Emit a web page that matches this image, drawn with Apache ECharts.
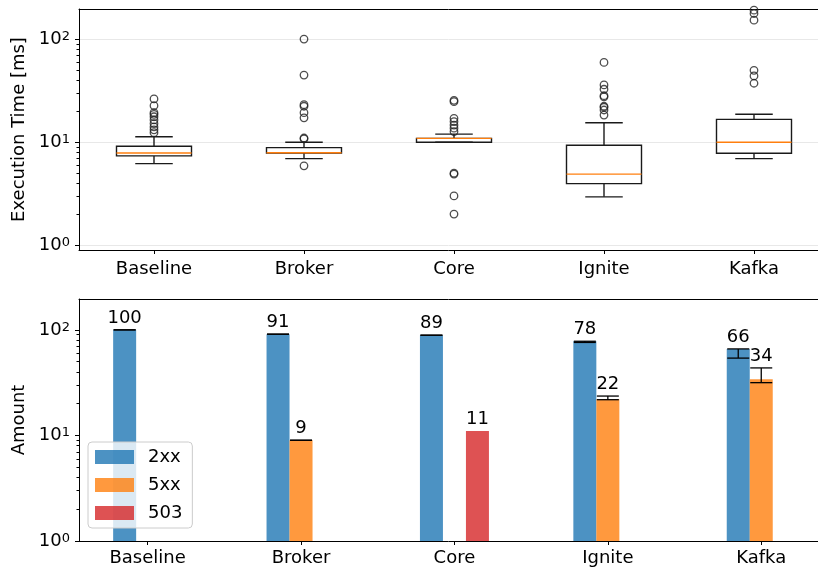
<!DOCTYPE html>
<html>
<head>
<meta charset="utf-8">
<script src="https://cdn.jsdelivr.net/npm/echarts@6/dist/echarts.min.js"></script>
<style>
  html, body { margin: 0; padding: 0; background: #fff; }
  #chart { width: 818px; height: 572px; }
</style>
</head>
<body>
<div id="chart"></div>
<script>
var categories = ['Baseline', 'Broker', 'Core', 'Ignite', 'Kafka'];

// top plot: [whisker low, q1, median, q3, whisker high]
var boxStats = [
  [6.2, 7.36, 7.87, 9.14, 11.3],
  [6.93, 7.87, 7.9, 8.87, 10.0],
  [10.0, 10.0, 10.9, 10.9, 12.0],
  [2.94, 3.96, 4.89, 9.35, 15.5],
  [6.93, 7.82, 10.0, 16.7, 18.7]
];
var outliers = [
  [12.4, 13.2, 14.1, 15.2, 16.5, 17.7, 18.7, 19.4, 22.7, 26.4],
  [5.9, 10.8, 11.0, 17.3, 19.4, 22.4, 23.2, 45, 101],
  [2.0, 3.0, 4.9, 5.0, 12.7, 13.7, 14.7, 15.9, 17.1, 24.8, 25.6],
  [18.4, 20.6, 21.9, 22.4, 27.7, 28.4, 32.8, 36.1, 59.8],
  [37.5, 44.2, 50.1, 154, 179, 193]
];

// bottom plot: response amounts
var status2xx = [100, 91, 89, 78, 66];
var status5xx = [null, 9, null, 22, 34];
var status503 = [null, null, 11, null, null];
var range2xx = [[100, 100], [91, 91], [89, 89], [76, 78], [54, 66]];
var range5xx = [null, [9, 9], null, [21.8, 23.6], [31.6, 43.6]];

var majorTicks = [1, 10, 100];
var minorTicks = [2, 3, 4, 5, 6, 7, 8, 9, 20, 30, 40, 50, 60, 70, 80, 90];

var FONT = 'DejaVu Sans';
var Chart = echarts.init(document.getElementById('chart'));

// plot area is cut by the right edge of the figure
var PLOT_W = 739;
var topMin = 0.5, topMax = topMin + PLOT_W / 150;
var botMin = -0.4475, botMax = botMin + PLOT_W / 153.4;

function logLabel(v) {
  return '{b|10}{s|' + Math.round(Math.log10(v)) + '}';
}

function yMajor(grid, min, max, name, gap) {
  return {
    type: 'log', gridIndex: grid, min: min, max: max, position: 'left',
    name: name, nameLocation: 'middle', nameGap: gap,
    nameTextStyle: { fontSize: 18, color: '#000', fontFamily: FONT },
    axisLine: { show: true, onZero: false, lineStyle: { color: '#000', width: 1 } },
    axisTick: { show: true, customValues: majorTicks, length: 4, lineStyle: { color: '#000' } },
    axisLabel: {
      customValues: majorTicks, margin: 9, formatter: logLabel,
      rich: {
        b: { fontSize: 18, color: '#000', fontFamily: FONT },
        s: { fontSize: 13, color: '#000', fontFamily: FONT, verticalAlign: 'top' }
      }
    },
    splitLine: { show: grid === 0, lineStyle: { color: '#e8e8e8', width: 1 } }
  };
}
function yMinor(grid, min, max) {
  return {
    type: 'log', gridIndex: grid, min: min, max: max, position: 'left',
    axisLine: { show: false, onZero: false },
    axisTick: { show: true, customValues: minorTicks, length: 2.5, lineStyle: { color: '#000' } },
    axisLabel: { show: false },
    splitLine: { show: false }
  };
}
function xCat(grid, min, max, first, margin) {
  var ticks = categories.map(function (c, i) { return i + first; });
  return {
    type: 'value', gridIndex: grid, min: min, max: max, position: 'bottom',
    axisLine: { show: true, onZero: false, lineStyle: { color: '#000', width: 1 } },
    axisTick: { show: true, customValues: ticks, length: 4, lineStyle: { color: '#000' } },
    axisLabel: {
      customValues: ticks, margin: margin, fontSize: 18, color: '#000', fontFamily: FONT,
      formatter: function (v) { return categories[Math.round(v) - first]; }
    },
    splitLine: { show: false }
  };
}
function xSpine(grid, min, max) {
  return {
    type: 'value', gridIndex: grid, min: min, max: max, position: 'top',
    axisLine: { show: true, onZero: false, lineStyle: { color: '#000', width: 1 } },
    axisTick: { show: false }, axisLabel: { show: false }, splitLine: { show: false }
  };
}

// boxes drawn matplotlib style (half-width caps, orange median)
function renderBox(params, api) {
  var x = api.value(0);
  var lo = api.coord([x, api.value(1)]);
  var q1 = api.coord([x, api.value(2)]);
  var med = api.coord([x, api.value(3)]);
  var q3 = api.coord([x, api.value(4)]);
  var hi = api.coord([x, api.value(5)]);
  var hw = api.coord([x + 0.25, api.value(3)])[0] - med[0];
  var cx = med[0];
  var st = { stroke: '#1a1a1a', lineWidth: 1.4, fill: null };
  return {
    type: 'group',
    children: [
      { type: 'line', shape: { x1: cx, y1: q3[1], x2: cx, y2: hi[1] }, style: st },
      { type: 'line', shape: { x1: cx, y1: q1[1], x2: cx, y2: lo[1] }, style: st },
      { type: 'line', shape: { x1: cx - hw / 2, y1: hi[1], x2: cx + hw / 2, y2: hi[1] }, style: st },
      { type: 'line', shape: { x1: cx - hw / 2, y1: lo[1], x2: cx + hw / 2, y2: lo[1] }, style: st },
      { type: 'rect', shape: { x: cx - hw, y: q3[1], width: 2 * hw, height: q1[1] - q3[1] },
        style: { stroke: '#1a1a1a', lineWidth: 1.4, fill: 'none' } },
      { type: 'line', shape: { x1: cx - hw, y1: med[1], x2: cx + hw, y2: med[1] },
        style: { stroke: '#ff7f0e', lineWidth: 1.4 } }
    ]
  };
}

// error bars + value labels
function errSeries(name, values, ranges, off) {
  var data = [];
  values.forEach(function (v, i) {
    if (v == null) return;
    var r = ranges && ranges[i];
    data.push([i, v, r ? r[0] : v, r ? r[1] : v, r ? 1 : 0]);
  });
  return {
    type: 'custom', name: name, xAxisIndex: 2, yAxisIndex: 2, z: 5,
    data: data,
    renderItem: function (params, api) {
      var x = api.value(0) + off;
      var v = api.value(1);
      var top = api.coord([x, api.value(3)]);
      var bot = api.coord([x, api.value(2)]);
      var lab = api.coord([x, Math.max(v, api.value(3))]);
      var kids = [];
      if (api.value(4)) {
        var st = { stroke: '#000', lineWidth: 1.3 };
        kids.push({ type: 'line', shape: { x1: top[0], y1: top[1], x2: top[0], y2: bot[1] }, style: st });
        kids.push({ type: 'line', shape: { x1: top[0] - 11, y1: top[1], x2: top[0] + 11, y2: top[1] }, style: st });
        kids.push({ type: 'line', shape: { x1: bot[0] - 11, y1: bot[1], x2: bot[0] + 11, y2: bot[1] }, style: st });
      }
      kids.push({
        type: 'text', x: lab[0], y: lab[1] - 3,
        style: { text: String(v), fill: '#000', fontSize: 18, fontFamily: FONT, align: 'center', verticalAlign: 'bottom' }
      });
      return { type: 'group', children: kids };
    }
  };
}

function barData(values) {
  var out = [];
  values.forEach(function (v, i) { if (v != null) out.push([i, v]); });
  return out;
}

var outlierData = [];
outliers.forEach(function (list, i) {
  list.forEach(function (v) { outlierData.push([i + 1, v]); });
});

var options = {
  animation: false,
  textStyle: { fontFamily: FONT },
  grid: [
    { left: 79, right: 0, top: 9, height: 241, outerBoundsMode: 'none' },
    { left: 79, right: 0, top: 299, height: 242, outerBoundsMode: 'none' }
  ],
  xAxis: [
    xCat(0, topMin, topMax, 1, 10),
    xSpine(0, topMin, topMax),
    xCat(1, botMin, botMax, 0, 8),
    xSpine(1, botMin, botMax)
  ],
  yAxis: [
    yMajor(0, 0.894, 198, 'Execution Time [ms]', 43),
    yMinor(0, 0.894, 198),
    yMajor(1, 1, 196, 'Amount', 45),
    yMinor(1, 1, 196)
  ],
  legend: {
    data: ['2xx', '5xx', '503'],
    orient: 'vertical', left: 88, top: 442,
    padding: [6, 10, 6, 7],
    itemWidth: 39, itemHeight: 14, itemGap: 10, icon: 'rect',
    textStyle: { fontSize: 18, color: '#000', fontFamily: FONT, padding: [0, 0, 0, 9] },
    backgroundColor: 'rgba(255,255,255,0.8)',
    borderColor: '#cccccc', borderWidth: 1, borderRadius: 4
  },
  series: [
    {
      type: 'custom', name: 'box', xAxisIndex: 0, yAxisIndex: 0,
      data: boxStats.map(function (s, i) { return [i + 1].concat(s); }),
      renderItem: renderBox
    },
    {
      type: 'scatter', name: 'outliers', xAxisIndex: 0, yAxisIndex: 0,
      data: outlierData, symbol: 'circle', symbolSize: 7.5,
      itemStyle: { color: 'rgba(0,0,0,0)', borderColor: '#222', borderWidth: 1.3 }
    },
    {
      type: 'bar', name: '2xx', xAxisIndex: 2, yAxisIndex: 2, data: barData(status2xx),
      barWidth: 23, barGap: '0%', itemStyle: { color: '#1f77b4', opacity: 0.8 }
    },
    {
      type: 'bar', name: '5xx', xAxisIndex: 2, yAxisIndex: 2, data: barData(status5xx),
      barWidth: 23, barGap: '0%', itemStyle: { color: '#ff7f0e', opacity: 0.8 }
    },
    {
      type: 'bar', name: '503', xAxisIndex: 2, yAxisIndex: 2, data: barData(status503),
      barWidth: 23, barGap: '0%', itemStyle: { color: '#d62728', opacity: 0.8 }
    },
    errSeries('2xx err', status2xx, range2xx, -0.15),
    errSeries('5xx err', status5xx, range5xx, 0),
    errSeries('503 err', status503, null, 0.15)
  ]
};
Chart.setOption(options);
</script>
</body>
</html>
